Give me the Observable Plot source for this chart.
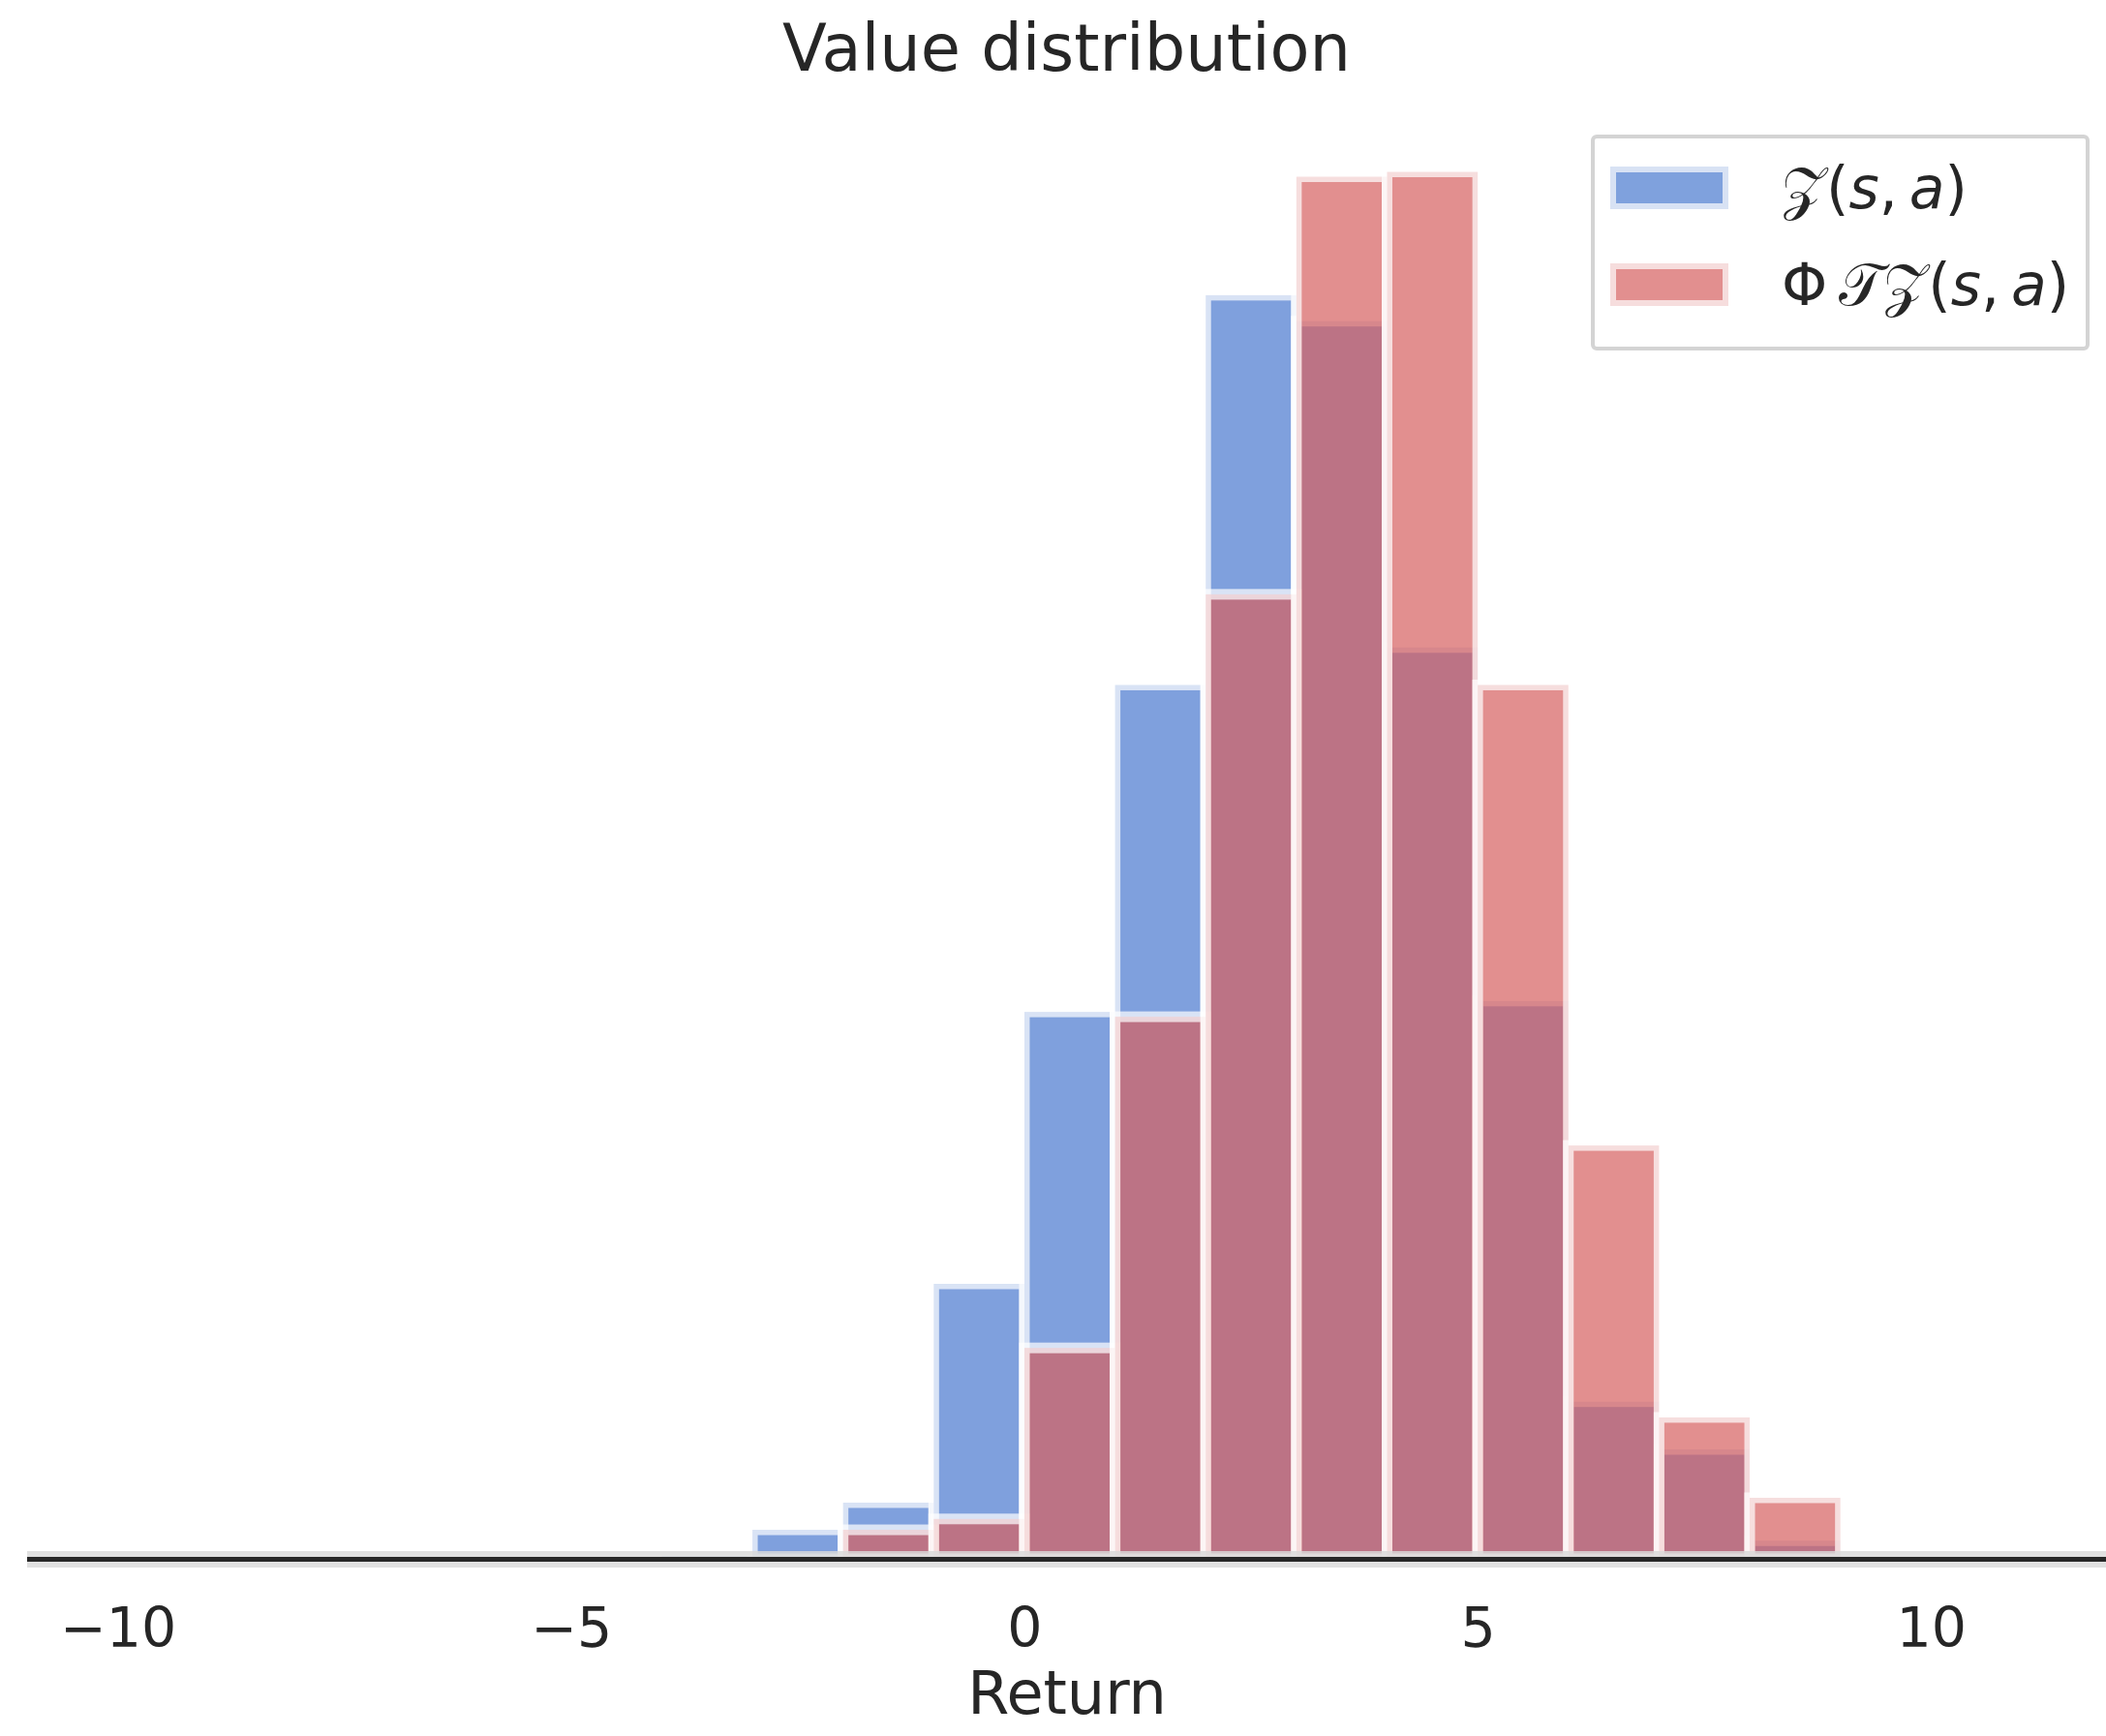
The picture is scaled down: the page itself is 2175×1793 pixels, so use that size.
<!DOCTYPE html>
<html>
<head>
<meta charset="utf-8">
<script src="https://cdn.jsdelivr.net/npm/d3@7"></script>
<script src="https://cdn.jsdelivr.net/npm/@observablehq/plot@0.6"></script>
<style>
  html, body { margin: 0; padding: 0; background: #ffffff; }
  body { width: 2175px; height: 1793px; position: relative; overflow: hidden; font-family: "DejaVu Sans", sans-serif; color: #262626; }
  #title { margin-left: 28px; width: 2147px; height: 100px; line-height: 100px; text-align: center; font-size: 67px; white-space: nowrap; }
  #legend { position: absolute; left: 1643px; top: 139px; width: 515px; height: 223px; box-sizing: border-box;
            border: 4px solid #d4d4d4; border-radius: 6px; background: rgba(255,255,255,0.8); }
  .item { position: absolute; left: 16px; height: 44px; display: flex; align-items: center; }
  .swatch { width: 122px; height: 44px; box-sizing: border-box; border: 6px solid; }
  .lab { position: absolute; left: 177px; white-space: nowrap; font-size: 60px; line-height: 44px; }
  .lab i { font-style: italic; }
</style>
</head>
<body>
<div id="title">Value distribution</div>
<div id="chart"></div>
<div id="legend"></div>
<script>
// Histogram bins (lower edges, width 1) and densities
const binStart = [-4, -3, -2, -1, 0, 1, 2, 3, 4, 5, 6, 7, 8];
const binWidth = 1;
const zDensity   = [0.0005, 0.0048, 0.0093, 0.0455, 0.0905, 0.1446, 0.2091, 0.2048, 0.1508, 0.0923, 0.0260, 0.0181, 0.0030];
const phiDensity = [0, 0, 0.0048, 0.0066, 0.0349, 0.0897, 0.1596, 0.2287, 0.2295, 0.1446, 0.0684, 0.0234, 0.0101];

const seriesNames = ["Z(s,a)", "ΦTZ(s,a)"];
const seriesColors = ["#4878CF", "#D65F5F"];

const xTicks = [-10, -5, 0, 5, 10];
const xTickLabels = ["−10", "−5", "0", "5", "10"];

const titleText = "Value distribution";
const xLabel = "Return";

function rows(values) {
  return binStart.map((b, i) => ({x1: b, x2: b + binWidth, y: values[i]})).filter(d => d.y > 0);
}

const barStyle = {fillOpacity: 0.7, stroke: "white", strokeOpacity: 0.7, strokeWidth: 11};

const chart = Plot.plot({
  width: 2175,
  height: 1693,
  marginLeft: 28,
  marginRight: 0,
  marginTop: 12,
  marginBottom: 183,
  style: {fontFamily: "DejaVu Sans", fontSize: "57px", color: "#262626", background: "white"},
  x: {domain: [-11.0, 11.93]},
  y: {domain: [0, 0.24], axis: null},
  marks: [
    Plot.rectY(rows(zDensity), {x1: "x1", x2: "x2", y: "y", fill: seriesColors[0], ...barStyle}),
    Plot.rectY(rows(phiDensity), {x1: "x1", x2: "x2", y: "y", fill: seriesColors[1], ...barStyle}),
    Plot.ruleY([0], {stroke: "#d9d9d9", strokeOpacity: 0.82, strokeWidth: 17}),
    Plot.ruleY([0], {stroke: "#262626", strokeWidth: 5}),
    Plot.axisX(xTicks, {tickSize: 0, tickPadding: 50, fontSize: 57, label: null,
      tickFormat: d => xTickLabels[xTicks.indexOf(d)]}),
    Plot.text([xLabel], {frameAnchor: "bottom", dy: 115, lineAnchor: "top", fontSize: 62, fill: "#262626"})
  ]
});
document.getElementById("chart").appendChild(chart);

document.getElementById("title").textContent = titleText;

// Legend
const legend = document.getElementById("legend");
const labelsHtml = [
  "𝒵(<i>s</i>,&#8201;<i>a</i>)",
  "Φ&#8201;𝒯𝒵(<i>s</i>,&#8201;<i>a</i>)"
];
const swatchFill = ["#7FA1DD", "#E28F8F"];
const swatchEdge = ["#D8E2F4", "#F6DDDD"];
[29, 129].forEach((top, i) => {
  const item = document.createElement("div");
  item.className = "item";
  item.style.top = top + "px";
  item.style.left = "16px";
  item.style.width = "480px";
  item.innerHTML = `<div class="swatch" style="background:${swatchFill[i]};border-color:${swatchEdge[i]}"></div>` +
                   `<div class="lab" title="${seriesNames[i]}">${labelsHtml[i]}</div>`;
  legend.appendChild(item);
});
</script>
</body>
</html>
